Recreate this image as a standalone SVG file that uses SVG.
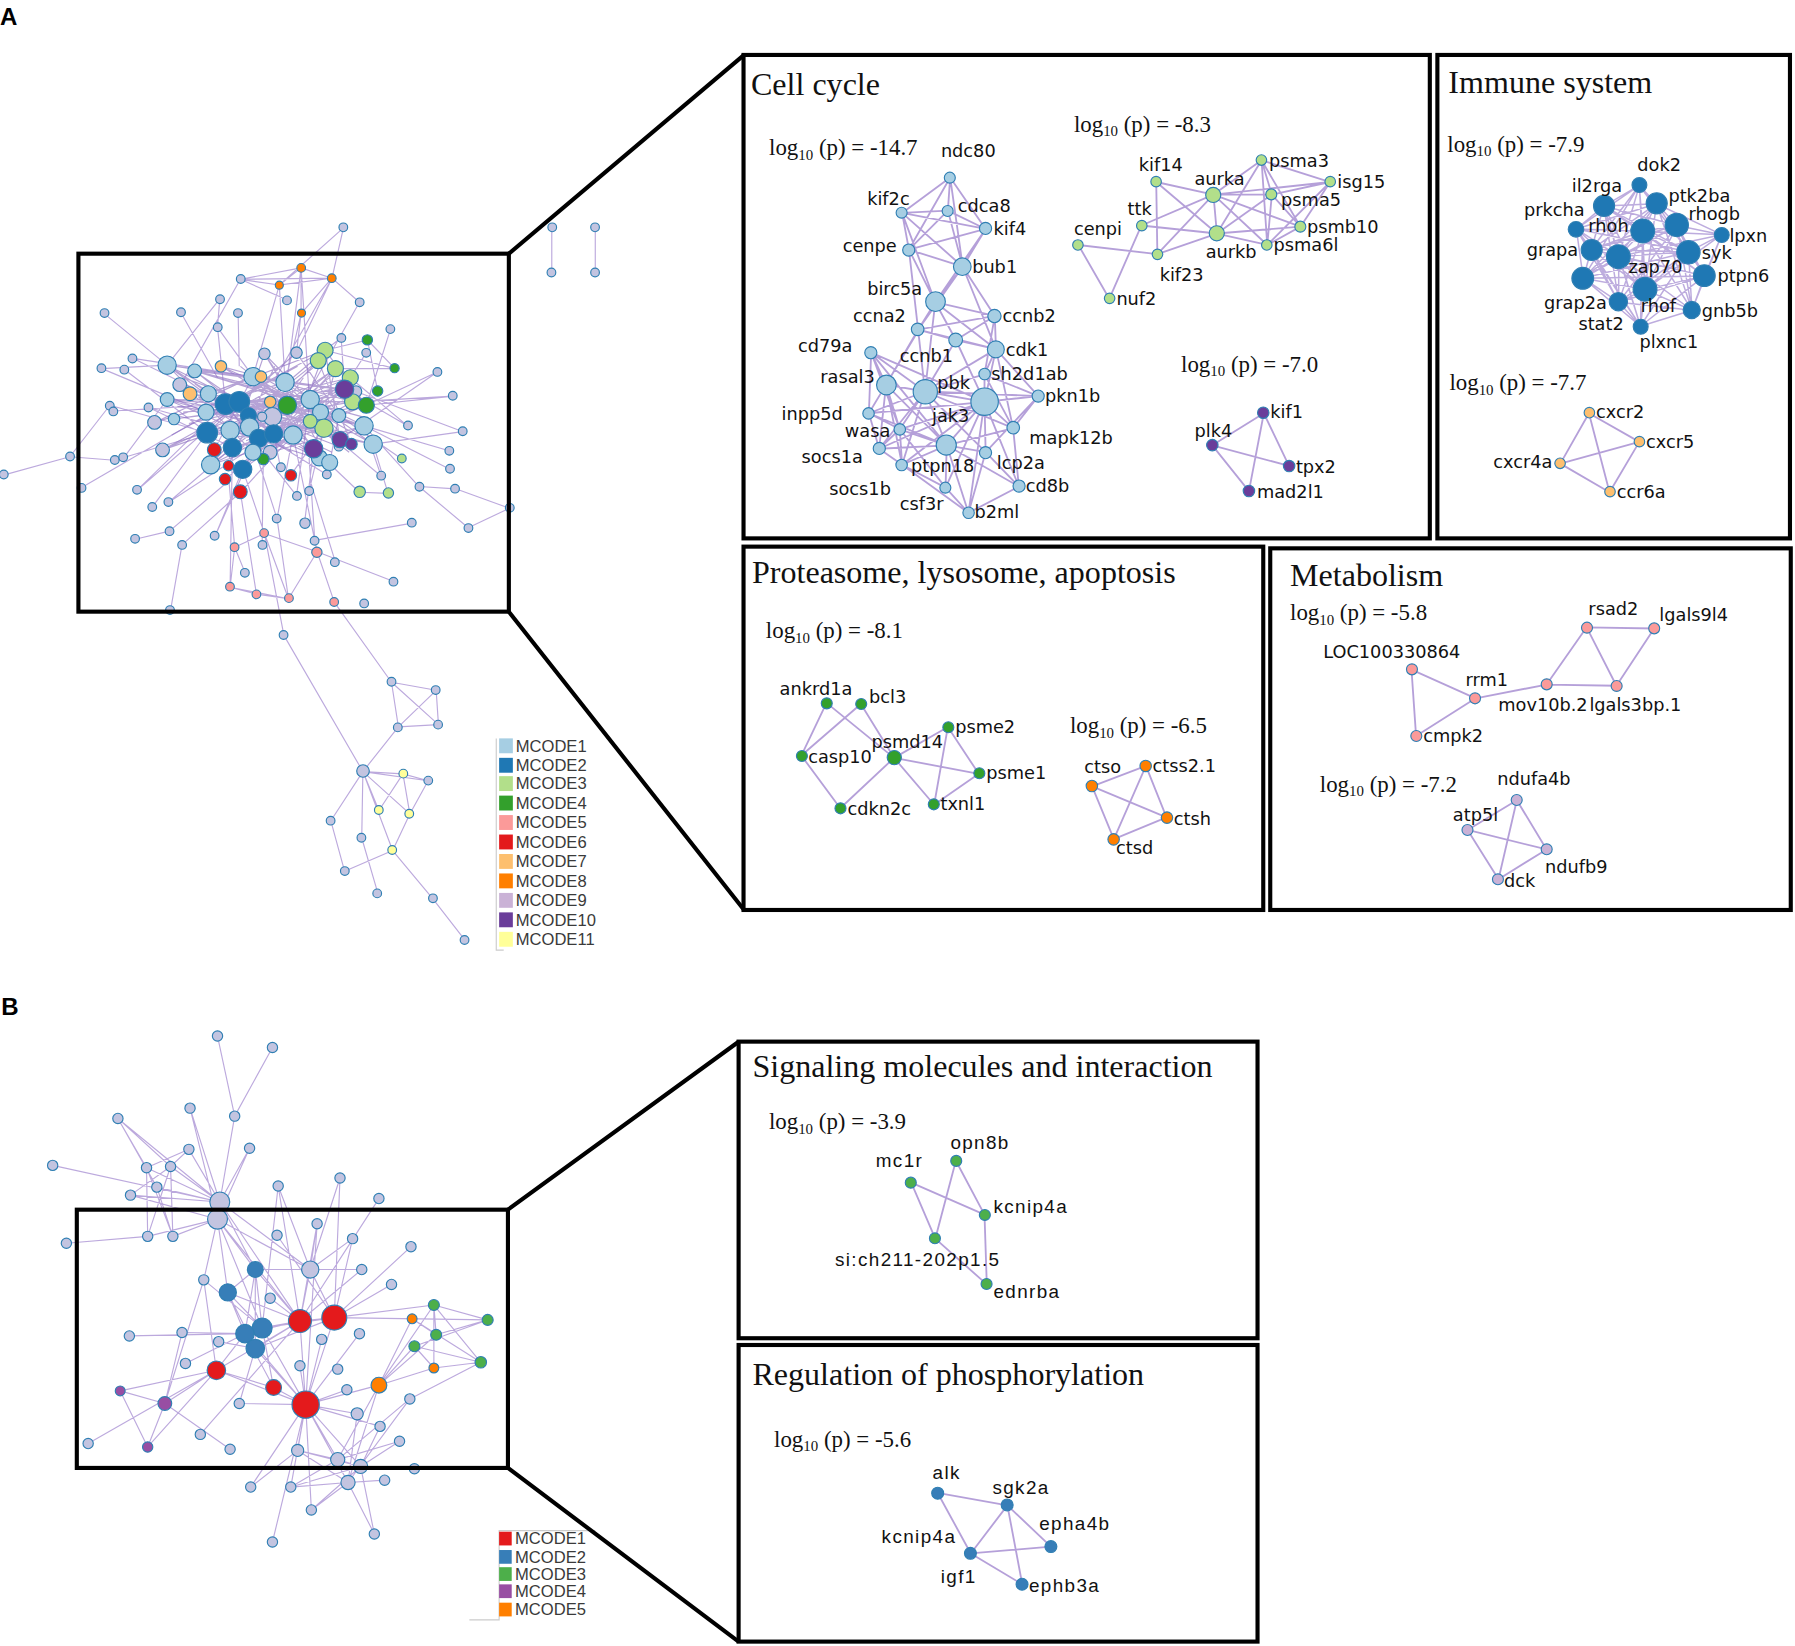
<svg xmlns="http://www.w3.org/2000/svg" width="1795" height="1646" viewBox="0 0 1795 1646">
<style>
.e{fill:none;stroke:#8f6fc6;stroke-opacity:.6;stroke-width:1}
.ce{fill:none;stroke:#6c45ad;stroke-opacity:.5;stroke-width:1}
.se{fill:none;stroke:#a88fd2;stroke-opacity:.85;stroke-width:1.6}
.ie{fill:none;stroke:#9a7fcd;stroke-opacity:.65;stroke-width:1.3}
.box{fill:none;stroke:#000;stroke-width:3.6}
.zl{fill:none;stroke:#000;stroke-width:3.6}
circle{stroke:#2f7fb3;stroke-width:1}
.gr{fill:#c3c4e0}.c1{fill:#a6cee3}.c2{fill:#1f78b4}.c3{fill:#b2df8a}.c4{fill:#33a02c}.c5{fill:#fb9a99}.c6{fill:#e31a1c}.c7{fill:#fdbf6f}.c8{fill:#ff7f00}.c9{fill:#cab2d6}.c10{fill:#6a3d9a}.c11{fill:#ffff99}
.b1{fill:#e41a1c}.b2{fill:#377eb8}.b3{fill:#4daf4a}.b4{fill:#984ea3}.b5{fill:#ff7f00}
.lab{font-family:"DejaVu Sans",sans-serif;font-size:15.5px;fill:#111}
.labB{font-family:"Liberation Sans",Arial,sans-serif;font-size:16.5px;letter-spacing:1.2px;fill:#111}
.title{font-family:"Liberation Serif","Times New Roman",serif;font-size:28px;fill:#111}
.lg{font-family:"Liberation Serif","Times New Roman",serif;font-size:20px;fill:#111}
.leg{font-family:"Liberation Sans",Arial,sans-serif;font-size:14.5px;fill:#3a3a3a}
.pl{font-family:"Liberation Sans",Arial,sans-serif;font-size:21px;font-weight:bold;fill:#000}
</style>
<rect width="1795" height="1646" fill="#fff"/>
<g transform="scale(1.14477)">
<text class="pl" x="0" y="22">A</text>
<text class="pl" x="1" y="887">B</text>

<!-- Panel A overview network -->
<g id="A-network">
<g id="A-edges">
<path class="ce" d="M146 319L249 334 M146 319L301 340 M146 319L209 351 M146 319L218 373 M170 324L271 349 M170 324L296 363 M170 324L239 379 M146 349L308 351 M146 349L280 360 M146 349L226 383 M182 344L318 372 M182 344L284 306 M182 344L256 380 M180 360L306 330 M180 360L326 388 M180 360L271 368 M201 376L301 340 M201 376L278 315 M201 376L288 404 M218 373L293 322 M218 373L320 354 M218 373L157 336 M221 329L283 374 M221 329L135 369 M221 329L307 388 M249 334L184 406 M249 334L142 393 M249 334L297 384 M271 349L181 378 M271 349L212 410 M271 349L152 366 M280 360L197 353 M280 360L166 344 M280 360L193 320 M256 380L146 349 M256 380L308 351 M256 380L284 306 M296 363L203 391 M296 363L226 383 M296 363L259 308 M318 372L209 351 M318 372L236 351 M318 372L251 354 M326 388L249 334 M326 388L221 329 M184 406L293 322 M184 406L239 379 M184 406L283 374 M221 395L306 330 M221 395L146 319 M279 400L197 353 M279 400L170 324 M288 404L218 373 M288 404L231 309 M259 308L209 351 M259 308L181 378 M231 309L271 368 M231 309L203 391 M152 366L251 354 M197 353L301 340 M197 353L284 306 M197 353L297 384 M209 351L274 392 M209 351L308 351 M181 378L306 330 M181 378L283 374 M203 391L320 354 M203 391L278 315 M226 383L301 340 M226 383L166 344 M239 379L146 319 M239 379L293 322 M212 410L280 360 M212 410L238 364 M217 363L326 388 M217 363L284 306 M284 306L320 354 M284 306L297 384 M278 315L307 388 M293 322L274 392 M306 330L236 395 M308 351L229 364 M283 374L193 320 M271 368L166 344 M251 354L311 342 M320 354L256 380 M230 401L280 360 M301 340L236 395 M274 392L221 329 M297 384L197 353 M307 388L231 309 M238 364L146 349 M157 336L296 390 M135 369L249 334 M142 393L271 349 M236 395L318 372 M229 364L326 388 M311 342L170 324 M193 320L308 351 M166 344L283 374 M228 329L274 392 M236 351L142 393 M170 324L221 329 M197 353L256 380 M209 351L239 379 M181 378L226 383 M226 383L280 360 M249 334L301 340 M271 349L318 372 M203 391L256 380 M146 349L197 353 M182 344L221 329 M160 330L300 380 M165 370L310 335 M175 340L290 395 M190 330L320 365 M200 400L300 320 M155 355L320 380 M185 395L275 320 M210 320L305 395 M150 380L260 320 M240 320L200 405 M255 395L170 335 M285 350L160 360 M230 340L325 375 M215 385L300 350 M245 365L190 340 M265 330L215 400 M300 370L230 330 M175 385L295 340"/>
<path class="e" d="M300 199L244 249 M300 199L290 243 M263 234L244 249 M263 234L290 243 M263 234L263 274 M244 249L290 243 M290 243L263 274 M210 244L263 234 M210 244L290 243 M210 244L244 249 M210 244L251 262 M290 243L314 264 M263 234L251 329 M244 249L249 334 M290 243L259 308 M263 274L252 322 M290 243L241 330 M210 244L158 336 M263 234L270 345 M244 249L221 329 M263 274L259 308 M192 261L190 286 M192 261L146 319 M190 286L197 353 M190 286L221 329 M158 273L190 330 M208 274L209 320 M91 274L146 319 M314 264L271 340 M341 288L320 354 M321 297L284 306 M321 297L345 322 M321 297L330 342 M320 308L306 330 M345 322L293 322 M345 322L284 306 M382 325L320 354 M396 346L320 354 M404 377L326 388 M393 394L318 372 M393 410L318 372 M398 427L366 425 M366 425L318 372 M445 444L398 427 M445 444L409 461 M409 461L366 425 M360 457L275 472 M356 372L306 330 M298 295L284 306 M298 295L301 340 M356 372L301 340 M404 377L311 342 M396 346L308 351 M382 325L297 384 M3 415L61 399 M61 399L96 354 M61 399L100 402 M116 313L197 353 M89 322L146 319 M109 323L181 378 M96 354L181 378 M99 359L197 353 M130 356L203 391 M100 402L181 378 M108 400L146 349 M71 426L197 353 M120 428L197 353 M147 439L203 391 M133 443L181 378 M118 471L148 464 M148 464L200 420 M159 476L210 430 M188 468L212 410 M229 476L230 400 M242 453L256 380 M266 457L274 392 M275 472L270 400 M259 433L271 349 M270 429L283 374 M293 491L271 420 M344 508L277 482 M214 500L205 478 M245 408L239 379 M286 415L296 363 M333 416L318 372 M351 401L296 363 M314 430L274 392 M339 431L326 388 M314 430L339 431 M116 313L221 329 M89 322L180 360 M130 356L226 383 M120 428L209 351 M147 439L239 379 M188 468L226 383 M242 453L209 351 M259 433L197 353 M333 416L283 374 M286 415L218 373 M231 466L277 482 M231 466L205 478 M205 478L201 513 M201 513L224 519 M224 519L252 523 M201 513L252 523 M277 482L252 523 M277 482L275 472 M231 466L212 410 M205 478L200 420 M292 526L277 482 M224 519L210 430 M252 523L231 466 M201 513L203 391 M149 533L159 476 M231 466L248 555 M248 555L317 674 M292 526L342 596 M277 482L256 380 M252 523L242 453 M342 596L381 603 M342 596L348 635 M342 596L383 633 M381 603L383 633 M381 603L348 635 M348 635L383 633 M348 635L317 674 M317 674L352 676 M317 674L374 682 M352 676L374 682 M317 674L331 708 M317 674L358 711 M352 676L331 708 M352 676L358 711 M374 682L358 711 M317 674L289 717 M317 674L316 732 M317 674L343 743 M358 711L343 743 M289 717L301 761 M301 761L343 743 M316 732L330 780 M343 743L378 785 M378 785L406 821 M482 199L482 238 M520 199L520 238 M187 393L221 329 M210 430L256 380 M254 415L283 374 M197 419L239 379"/>
</g>
<g id="A-nodes">
<g class="gr">
<circle cx="299.9" cy="198.6" r="3.8"/><circle cx="482.4" cy="198.6" r="3.8"/><circle cx="481.7" cy="238" r="3.8"/><circle cx="519.8" cy="198.6" r="3.8"/><circle cx="519.8" cy="238" r="3.8"/><circle cx="3.3" cy="414.5" r="3.8"/><circle cx="61.2" cy="398.8" r="3.8"/><circle cx="210.3" cy="243.7" r="3.8"/><circle cx="250.7" cy="262.4" r="3.8"/><circle cx="314.2" cy="264.1" r="3.8"/><circle cx="192.2" cy="261.4" r="3.8"/><circle cx="158.1" cy="272.8" r="3.8"/><circle cx="207.9" cy="273.5" r="3.8"/><circle cx="91.3" cy="273.5" r="3.8"/><circle cx="190.2" cy="285.8" r="3.8"/><circle cx="298.2" cy="295.2" r="3.8"/><circle cx="341" cy="287.5" r="3.8"/><circle cx="319.9" cy="308.2" r="3.8"/><circle cx="115.7" cy="313.2" r="3.8"/><circle cx="88.6" cy="321.6" r="3.8"/><circle cx="108.6" cy="322.9" r="3.8"/><circle cx="382.1" cy="324.9" r="3.8"/><circle cx="395.5" cy="345.7" r="3.8"/><circle cx="95.9" cy="354.4" r="3.8"/><circle cx="99" cy="359.4" r="3.8"/><circle cx="129.7" cy="356" r="3.8"/><circle cx="356.4" cy="371.7" r="3.8"/><circle cx="404.2" cy="376.7" r="3.8"/><circle cx="392.5" cy="393.8" r="3.8"/><circle cx="100.3" cy="401.8" r="3.8"/><circle cx="107.6" cy="399.5" r="3.8"/><circle cx="393.1" cy="409.5" r="3.8"/><circle cx="397.5" cy="426.9" r="3.8"/><circle cx="366.4" cy="425.2" r="3.8"/><circle cx="445.3" cy="443.6" r="3.8"/><circle cx="409.2" cy="461.3" r="3.8"/><circle cx="359.7" cy="456.6" r="3.8"/><circle cx="333" cy="415.5" r="3.8"/><circle cx="71.2" cy="426.2" r="3.8"/><circle cx="119.7" cy="427.9" r="3.8"/><circle cx="147.1" cy="438.6" r="3.8"/><circle cx="133" cy="442.9" r="3.8"/><circle cx="118" cy="470.7" r="3.8"/><circle cx="148.1" cy="464" r="3.8"/><circle cx="159.1" cy="476" r="3.8"/><circle cx="187.5" cy="468" r="3.8"/><circle cx="229.3" cy="476" r="3.8"/><circle cx="241.7" cy="453" r="3.8"/><circle cx="266.4" cy="457" r="4.5"/><circle cx="274.8" cy="472.4" r="3.8"/><circle cx="259.4" cy="433.2" r="3.8"/><circle cx="270.1" cy="428.9" r="3.8"/><circle cx="292.5" cy="491.1" r="3.8"/><circle cx="343.7" cy="508.1" r="3.8"/><circle cx="213.9" cy="500.4" r="3.8"/><circle cx="245.4" cy="408.2" r="3.8"/><circle cx="285.5" cy="414.5" r="3.8"/><circle cx="148.5" cy="532.9" r="3.8"/><circle cx="318.1" cy="527.1" r="3.8"/><circle cx="247.7" cy="554.7" r="3.8"/><circle cx="342" cy="595.5" r="3.8"/><circle cx="380.6" cy="602.8" r="3.8"/><circle cx="347.5" cy="635.4" r="3.8"/><circle cx="382.7" cy="633" r="3.8"/><circle cx="374.1" cy="681.9" r="3.8"/><circle cx="288.8" cy="716.9" r="3.8"/><circle cx="315.7" cy="731.8" r="3.8"/><circle cx="301.2" cy="760.9" r="3.8"/><circle cx="329.5" cy="780.4" r="3.8"/><circle cx="378.2" cy="784.7" r="3.8"/><circle cx="405.8" cy="821.1" r="3.8"/><circle cx="317.1" cy="673.5" r="5.5"/>
</g>
<g class="c11"><circle cx="352.3" cy="675.8" r="3.8"/><circle cx="330.9" cy="707.6" r="3.8"/><circle cx="357.5" cy="710.8" r="3.8"/><circle cx="342.6" cy="742.5" r="3.8"/></g>
<g class="c8"><circle cx="263.1" cy="234" r="3.8"/><circle cx="244" cy="249.1" r="3.5"/><circle cx="289.8" cy="243" r="3.8"/><circle cx="263.4" cy="273.5" r="3.5"/></g>
<g class="c5"><circle cx="230.7" cy="465.7" r="3.8"/><circle cx="204.9" cy="478" r="3.8"/><circle cx="276.8" cy="482.4" r="4.5"/><circle cx="200.9" cy="512.5" r="3.8"/><circle cx="224" cy="519.2" r="3.8"/><circle cx="252.4" cy="522.5" r="3.8"/><circle cx="291.9" cy="525.9" r="3.8"/></g>
<g class="c3"><circle cx="351" cy="400.5" r="3.8"/><circle cx="314.2" cy="429.6" r="5"/><circle cx="339.3" cy="430.6" r="4.5"/></g>
<g class="c4"><circle cx="320.9" cy="296.9" r="4.5"/><circle cx="344.7" cy="321.6" r="4"/><circle cx="329.9" cy="341.6" r="4.5"/></g>
<g class="gr"><circle cx="238" cy="364" r="8"/><circle cx="157" cy="336" r="6"/><circle cx="135" cy="369" r="6"/><circle cx="142" cy="393" r="6"/><circle cx="236" cy="395" r="6"/><circle cx="229" cy="364" r="4"/><circle cx="296" cy="390" r="4"/><circle cx="311" cy="342" r="5"/><circle cx="259" cy="308" r="5"/><circle cx="231" cy="309" r="5"/></g>
<g class="c1"><circle cx="146" cy="319" r="8"/><circle cx="170" cy="324" r="6"/><circle cx="146" cy="349" r="6"/><circle cx="182" cy="344" r="7"/><circle cx="180" cy="360" r="7"/><circle cx="221" cy="329" r="8"/><circle cx="249" cy="334" r="8"/><circle cx="271" cy="349" r="8"/><circle cx="280" cy="360" r="7"/><circle cx="296" cy="363" r="6"/><circle cx="318" cy="372" r="8"/><circle cx="326" cy="388" r="8"/><circle cx="152" cy="366" r="5"/><circle cx="279" cy="400" r="7"/><circle cx="288" cy="404" r="7"/></g>
<g class="c7"><circle cx="193" cy="320" r="5"/><circle cx="166" cy="344" r="6"/><circle cx="228" cy="329" r="5"/><circle cx="236" cy="351" r="5"/></g>
<g class="c3"><circle cx="284" cy="306" r="7"/><circle cx="278" cy="315" r="7"/><circle cx="293" cy="322" r="7"/><circle cx="306" cy="330" r="7"/><circle cx="308" cy="351" r="7"/><circle cx="283" cy="374" r="8"/><circle cx="271" cy="368" r="6"/></g>
<g class="c4"><circle cx="251" cy="354" r="8"/><circle cx="320" cy="354" r="7"/><circle cx="230" cy="401" r="5"/></g>
<g class="c10"><circle cx="301" cy="340" r="8"/><circle cx="274" cy="392" r="8"/><circle cx="297" cy="384" r="7"/><circle cx="307" cy="388" r="5"/></g>
<g class="c2"><circle cx="197" cy="353" r="9"/><circle cx="209" cy="351" r="9"/><circle cx="181" cy="378" r="9"/><circle cx="217" cy="363" r="7"/></g>
<g class="c1"><circle cx="201" cy="376" r="8"/><circle cx="218" cy="373" r="8"/><circle cx="256" cy="380" r="8"/></g>
<g class="c2"><circle cx="203" cy="391" r="8"/><circle cx="226" cy="383" r="8"/><circle cx="239" cy="379" r="8"/></g>
<g class="c1"><circle cx="184" cy="406" r="8"/><circle cx="221" cy="395" r="7"/></g>
<g class="c2"><circle cx="212" cy="410" r="8"/></g>
<g class="c6"><circle cx="187.2" cy="392.8" r="6"/><circle cx="199.6" cy="406.8" r="4.5"/><circle cx="196.6" cy="418.5" r="5"/><circle cx="209.9" cy="429.6" r="6"/><circle cx="254.1" cy="415.2" r="5"/></g>
</g>
</g>

<g id="A-legend">
<path d="M433.5 645V830H440" fill="none" stroke="#ccc" stroke-width="1"/>
<rect x="436" y="645" width="12" height="13" fill="#a6cee3"/><text class="leg" x="450.5" y="656.5">MCODE1</text>
<rect x="436" y="662" width="12" height="13" fill="#1f78b4"/><text class="leg" x="450.5" y="673.5">MCODE2</text>
<rect x="436" y="678" width="12" height="13" fill="#b2df8a"/><text class="leg" x="450.5" y="689.5">MCODE3</text>
<rect x="436" y="695" width="12" height="13" fill="#33a02c"/><text class="leg" x="450.5" y="706.5">MCODE4</text>
<rect x="436" y="712" width="12" height="13" fill="#fb9a99"/><text class="leg" x="450.5" y="723.5">MCODE5</text>
<rect x="436" y="729" width="12" height="13" fill="#e31a1c"/><text class="leg" x="450.5" y="740.5">MCODE6</text>
<rect x="436" y="746" width="12" height="13" fill="#fdbf6f"/><text class="leg" x="450.5" y="757.5">MCODE7</text>
<rect x="436" y="763" width="12" height="13" fill="#ff7f00"/><text class="leg" x="450.5" y="774.5">MCODE8</text>
<rect x="436" y="780" width="12" height="13" fill="#cab2d6"/><text class="leg" x="450.5" y="791.5">MCODE9</text>
<rect x="436" y="797" width="12" height="13" fill="#6a3d9a"/><text class="leg" x="450.5" y="808.5">MCODE10</text>
<rect x="436" y="814" width="12" height="13" fill="#ffff99"/><text class="leg" x="450.5" y="825.5">MCODE11</text>
</g>

<g id="A-frames">
<rect class="box" x="68.5" y="221.6" width="376" height="312.7"/>
<path class="zl" d="M444.5 221.6L650 48 M444.5 534.3L650 795"/>
<rect class="box" x="649.5" y="48" width="599.5" height="422.3"/>
<rect class="box" x="1255.6" y="48" width="308" height="422.3"/>
<rect class="box" x="649.5" y="477.5" width="454" height="317.4"/>
<rect class="box" x="1109.6" y="479" width="454.7" height="315.9"/>
</g>

<!-- Cell cycle -->
<g id="cell-cycle">
<text class="title" x="656" y="83">Cell cycle</text>
<text class="lg" x="671.8" y="135.4">log<tspan font-size="13" dy="4">10</tspan><tspan dy="-4"> (p) = -14.7</tspan></text>
<text class="lg" x="938.1" y="115">log<tspan font-size="13" dy="4">10</tspan><tspan dy="-4"> (p) = -8.3</tspan></text>
<text class="lg" x="1031.7" y="324.7">log<tspan font-size="13" dy="4">10</tspan><tspan dy="-4"> (p) = -7.0</tspan></text>
<g id="cc-edges">
<path class="se" d="M830 155L788 186 M830 155L828 184 M830 155L861 200 M830 155L794 218 M830 155L841 233 M788 186L828 184 M788 186L861 200 M788 186L794 218 M788 186L841 233 M788 186L817 264 M828 184L861 200 M828 184L794 218 M828 184L841 233 M861 200L794 218 M861 200L841 233 M861 200L817 264 M794 218L841 233 M794 218L817 264 M794 218L802 288 M841 233L817 264 M841 233L869 276 M841 233L870 305 M841 233L802 288 M817 264L869 276 M817 264L802 288 M817 264L835 297 M817 264L870 305 M817 264L808 342 M817 264L774 336 M869 276L802 288 M869 276L835 297 M869 276L870 305 M869 276L860 327 M802 288L835 297 M802 288L870 305 M802 288L808 342 M802 288L774 336 M835 297L870 305 M835 297L860 351 M835 297L808 342 M870 305L860 327 M870 305L860 351 M870 305L808 342 M870 305L907 346 M870 305L885 374 M761 308L774 336 M761 308L808 342 M761 308L860 351 M761 308L759 361 M761 308L786 375 M761 308L827 389 M774 336L808 342 M774 336L860 351 M774 336L759 361 M774 336L786 375 M774 336L768 392 M774 336L827 389 M774 336L788 406 M808 342L860 351 M808 342L860 327 M808 342L759 361 M808 342L786 375 M808 342L827 389 M808 342L768 392 M808 342L788 406 M808 342L861 395 M808 342L907 346 M808 342L885 374 M860 351L860 327 M860 351L907 346 M860 351L759 361 M860 351L786 375 M860 351L885 374 M860 351L827 389 M860 351L861 395 M860 351L890 425 M860 351L846 448 M860 351L826 426 M860 351L788 406 M860 351L768 392 M860 327L907 346 M860 327L885 374 M907 346L885 374 M907 346L861 395 M759 361L786 375 M759 361L827 389 M759 361L768 392 M786 375L827 389 M786 375L768 392 M786 375L788 406 M786 375L826 426 M827 389L768 392 M827 389L788 406 M827 389L861 395 M827 389L826 426 M827 389L846 448 M827 389L890 425 M827 389L885 374 M861 395L846 448 M861 395L890 425 M885 374L890 425 M890 425L846 448 M826 426L846 448 M788 406L826 426 M768 392L788 406 M788 406L846 448"/>
<path class="se" d="M1010 159L1060 170 M1010 159L1063 204 M1010 159L1011 222 M1060 170L997 197 M1060 170L1063 204 M1060 170L1102 140 M1060 170L1111 170 M1060 170L1136 198 M1060 170L1107 214 M1060 170L1011 222 M1060 170L1162 159 M1102 140L1162 159 M1102 140L1111 170 M1102 140L1136 198 M1102 140L1107 214 M1102 140L1063 204 M1162 159L1111 170 M1162 159L1136 198 M1162 159L1107 214 M1111 170L1136 198 M1111 170L1107 214 M1111 170L1063 204 M1136 198L1107 214 M1136 198L1063 204 M1063 204L1107 214 M1063 204L997 197 M1063 204L1011 222 M997 197L969 261 M942 214L1011 222 M942 214L969 261"/>
<path class="se" d="M1059 389L1104 361 M1059 389L1126 407 M1059 389L1091 429 M1104 361L1126 407 M1104 361L1091 429"/>
</g>
<g class="c1">
<g id="ndc80"><circle cx="829.7" cy="155.2" r="4.8"/><text class="lab" x="821.9" y="136.9">ndc80</text></g>
<g id="kif2c"><circle cx="787.6" cy="185.8" r="4.8"/><text class="lab" x="757.5" y="179.1">kif2c</text></g>
<g id="cdca8"><circle cx="827.8" cy="184.3" r="4.8"/><text class="lab" x="836.7" y="184.9">cdca8</text></g>
<g id="kif4"><circle cx="860.9" cy="199.5" r="5.3"/><text class="lab" x="867.9" y="205.3">kif4</text></g>
<g id="cenpe"><circle cx="793.8" cy="218.4" r="5.3"/><text class="lab" x="736.1" y="219.9">cenpe</text></g>
<g id="bub1"><circle cx="840.6" cy="233" r="7.7"/><text class="lab" x="849.2" y="238.2">bub1</text></g>
<g id="birc5a"><circle cx="817.2" cy="263.5" r="8.6"/><text class="lab" x="757.5" y="257.7">birc5a</text></g>
<g id="ccnb2"><circle cx="868.7" cy="276.1" r="5.8"/><text class="lab" x="875.7" y="281">ccnb2</text></g>
<g id="ccna2"><circle cx="801.6" cy="287.7" r="5.5"/><text class="lab" x="745.1" y="281">ccna2</text></g>
<g id="ccnb1"><circle cx="834.8" cy="297" r="6"/><text class="lab" x="786" y="316">ccnb1</text></g>
<g id="cdk1"><circle cx="869.9" cy="305.2" r="7.4"/><text class="lab" x="878.5" y="311">cdk1</text></g>
<g id="cd79a"><circle cx="760.7" cy="308.1" r="5.3"/><text class="lab" x="697.1" y="307.2">cd79a</text></g>
<g id="sh2d1ab"><circle cx="860.1" cy="326.7" r="5"/><text class="lab" x="866" y="332">sh2d1ab</text></g>
<g id="rasal3"><circle cx="774.3" cy="336.3" r="8.6"/><text class="lab" x="716.6" y="334.9">rasal3</text></g>
<g id="pbk"><circle cx="808.3" cy="342.2" r="10.6"/><text class="lab" x="818.8" y="340.1">pbk</text></g>
<g id="jak3-hub"><circle cx="860.1" cy="350.9" r="12"/></g>
<g id="pkn1b"><circle cx="906.9" cy="346" r="5.3"/><text class="lab" x="912.8" y="350.9">pkn1b</text></g>
<g id="inpp5d"><circle cx="758.7" cy="361.1" r="5"/><text class="lab" x="682.7" y="366.9">inpp5d</text></g>
<g id="wasa"><circle cx="786" cy="375.1" r="5"/><text class="lab" x="738" y="381.5">wasa</text></g>
<g id="jak3"><text class="lab" x="814.1" y="368.4">jak3</text></g>
<g id="mapk12b"><circle cx="885.1" cy="373.6" r="5.5"/><text class="lab" x="899.1" y="388.2">mapk12b</text></g>
<g id="hub2"><circle cx="826.6" cy="388.8" r="8.8"/></g>
<g id="socs1a"><circle cx="768.1" cy="391.7" r="5.3"/><text class="lab" x="700.2" y="404.8">socs1a</text></g>
<g id="lcp2a"><circle cx="860.9" cy="395.4" r="5.3"/><text class="lab" x="870.7" y="410">lcp2a</text></g>
<g id="ptpn18"><circle cx="787.6" cy="406.2" r="5"/><text class="lab" x="795.8" y="412">ptpn18</text></g>
<g id="cd8b"><circle cx="890.2" cy="424.6" r="5.3"/><text class="lab" x="896" y="429.5">cd8b</text></g>
<g id="socs1b"><text class="lab" x="724.4" y="432.4">socs1b</text></g>
<g id="csf3r"><circle cx="825.8" cy="426" r="4.8"/><text class="lab" x="786" y="445.5">csf3r</text></g>
<g id="b2ml"><circle cx="846.1" cy="447.9" r="5"/><text class="lab" x="851.2" y="452.8">b2ml</text></g>
</g>
<g class="c3">
<g id="kif14"><circle cx="1009.9" cy="158.7" r="4.6"/><text class="lab" x="994.7" y="149.1">kif14</text></g>
<g id="aurka"><circle cx="1059.8" cy="170.3" r="6.6"/><text class="lab" x="1043.4" y="161.6">aurka</text></g>
<g id="psma3"><circle cx="1101.9" cy="139.8" r="4.6"/><text class="lab" x="1108.6" y="146.2">psma3</text></g>
<g id="isg15"><circle cx="1162" cy="158.7" r="4.6"/><text class="lab" x="1168.2" y="164.5">isg15</text></g>
<g id="psma5"><circle cx="1110.5" cy="169.8" r="4.8"/><text class="lab" x="1119.1" y="180">psma5</text></g>
<g id="ttk"><circle cx="997.4" cy="197.1" r="4.6"/><text class="lab" x="984.9" y="187.8">ttk</text></g>
<g id="cenpi"><circle cx="941.6" cy="214" r="4.6"/><text class="lab" x="938.1" y="205.3">cenpi</text></g>
<g id="aurkb"><circle cx="1062.9" cy="203.8" r="6.6"/><text class="lab" x="1053.2" y="225.7">aurkb</text></g>
<g id="psmb10"><circle cx="1135.9" cy="198" r="4.8"/><text class="lab" x="1141.7" y="203.8">psmb10</text></g>
<g id="psma6l"><circle cx="1106.6" cy="214" r="4.6"/><text class="lab" x="1112.5" y="219.3">psma6l</text></g>
<g id="kif23"><circle cx="1011.1" cy="222.2" r="4.6"/><text class="lab" x="1013" y="245.5">kif23</text></g>
<g id="nuf2"><circle cx="969.3" cy="260.6" r="4.6"/><text class="lab" x="975.2" y="266.5">nuf2</text></g>
</g>
<g class="c10">
<g id="kif1"><circle cx="1103.5" cy="360.5" r="5"/><text class="lab" x="1109.7" y="365.5">kif1</text></g>
<g id="plk4"><circle cx="1059" cy="388.8" r="5"/><text class="lab" x="1043.4" y="381.5">plk4</text></g>
<g id="tpx2"><circle cx="1126.1" cy="407.1" r="5"/><text class="lab" x="1132" y="412.9">tpx2</text></g>
<g id="mad2l1"><circle cx="1091" cy="428.9" r="5"/><text class="lab" x="1098" y="434.8">mad2l1</text></g>
</g>
</g>

<!-- Immune system -->
<g id="immune">
<text class="title" x="1265.2" y="81.5">Immune system</text>
<text class="lg" x="1264.3" y="132.5">log<tspan font-size="13" dy="4">10</tspan><tspan dy="-4"> (p) = -7.9</tspan></text>
<text class="lg" x="1266.1" y="340.7">log<tspan font-size="13" dy="4">10</tspan><tspan dy="-4"> (p) = -7.7</tspan></text>
<path class="ie" d="M1432 162L1401 180 M1432 162L1447 178 M1432 162L1377 200 M1432 162L1435 202 M1432 162L1465 197 M1432 162L1390 218 M1432 162L1414 224 M1432 162L1475 220 M1432 162L1383 243 M1432 162L1437 253 M1401 180L1447 178 M1401 180L1377 200 M1401 180L1435 202 M1401 180L1465 197 M1401 180L1390 218 M1401 180L1414 224 M1401 180L1475 220 M1401 180L1383 243 M1401 180L1489 241 M1401 180L1437 253 M1401 180L1414 264 M1401 180L1433 285 M1447 178L1377 200 M1447 178L1435 202 M1447 178L1465 197 M1447 178L1504 205 M1447 178L1390 218 M1447 178L1414 224 M1447 178L1475 220 M1447 178L1383 243 M1447 178L1489 241 M1447 178L1437 253 M1447 178L1478 271 M1377 200L1435 202 M1377 200L1390 218 M1377 200L1414 224 M1377 200L1475 220 M1377 200L1383 243 M1377 200L1437 253 M1377 200L1414 264 M1377 200L1433 285 M1435 202L1465 197 M1435 202L1504 205 M1435 202L1390 218 M1435 202L1414 224 M1435 202L1475 220 M1435 202L1383 243 M1435 202L1489 241 M1435 202L1437 253 M1435 202L1414 264 M1435 202L1478 271 M1435 202L1433 285 M1465 197L1504 205 M1465 197L1390 218 M1465 197L1414 224 M1465 197L1475 220 M1465 197L1383 243 M1465 197L1489 241 M1465 197L1437 253 M1465 197L1414 264 M1465 197L1478 271 M1504 205L1414 224 M1504 205L1475 220 M1504 205L1489 241 M1504 205L1437 253 M1504 205L1478 271 M1390 218L1414 224 M1390 218L1475 220 M1390 218L1383 243 M1390 218L1489 241 M1390 218L1437 253 M1390 218L1414 264 M1390 218L1433 285 M1414 224L1475 220 M1414 224L1383 243 M1414 224L1489 241 M1414 224L1437 253 M1414 224L1414 264 M1414 224L1478 271 M1414 224L1433 285 M1475 220L1383 243 M1475 220L1489 241 M1475 220L1437 253 M1475 220L1414 264 M1475 220L1478 271 M1475 220L1433 285 M1383 243L1489 241 M1383 243L1437 253 M1383 243L1414 264 M1383 243L1433 285 M1489 241L1437 253 M1489 241L1414 264 M1489 241L1478 271 M1489 241L1433 285 M1437 253L1414 264 M1437 253L1478 271 M1437 253L1433 285 M1414 264L1478 271 M1414 264L1433 285 M1478 271L1433 285"/>
<path class="se" d="M1388 361L1432 386 M1388 361L1363 405 M1388 361L1406 430 M1432 386L1363 405 M1432 386L1406 430 M1363 405L1406 430"/>
<g class="c2">
<g id="dok2"><circle cx="1432.1" cy="161.6" r="6.5"/><text class="lab" x="1430.3" y="149.1">dok2</text></g>
<g id="il2rga"><circle cx="1401.2" cy="179.9" r="9.2"/><text class="lab" x="1373" y="167.4">il2rga</text></g>
<g id="ptk2ba"><circle cx="1447.2" cy="177.6" r="9.2"/><text class="lab" x="1457.4" y="176.2">ptk2ba</text></g>
<g id="prkcha"><circle cx="1376.7" cy="200.3" r="6.8"/><text class="lab" x="1331.3" y="188.7">prkcha</text></g>
<g id="rhoh"><circle cx="1435" cy="201.8" r="10.4"/></g>
<g id="rhogb"><circle cx="1464.7" cy="196.5" r="10.2"/><text class="lab" x="1474.9" y="192.2">rhogb</text></g>
<g id="lpxn"><circle cx="1504" cy="205.3" r="6.5"/><text class="lab" x="1510.7" y="211.1">lpxn</text></g>
<g id="grapa"><circle cx="1390.4" cy="218.4" r="9.2"/><text class="lab" x="1333.6" y="223.6">grapa</text></g>
<g id="zap70"><circle cx="1413.7" cy="224.2" r="10.4"/></g>
<g id="syk"><circle cx="1474.9" cy="220.4" r="10.2"/><text class="lab" x="1486.5" y="226.5">syk</text></g>
<g id="n-imm11"><circle cx="1382.6" cy="243.1" r="9.5"/></g>
<g id="ptpn6"><circle cx="1488.8" cy="240.8" r="9.5"/><text class="lab" x="1500.2" y="246">ptpn6</text></g>
<g id="rhof"><circle cx="1437" cy="252.7" r="10.4"/></g>
<g id="grap2a"><circle cx="1413.7" cy="263.5" r="8"/><text class="lab" x="1348.8" y="270.2">grap2a</text></g>
<g id="gnb5b"><circle cx="1477.8" cy="270.8" r="7.5"/><text class="lab" x="1486.5" y="276.6">gnb5b</text></g>
<g id="plxnc1"><circle cx="1433.2" cy="285.4" r="6.5"/><text class="lab" x="1432.1" y="304.3">plxnc1</text></g>
<text class="lab" x="1387.5" y="202.4">rhoh</text>
<text class="lab" x="1422.5" y="238.2">zap70</text>
<text class="lab" x="1433.2" y="272.2">rhof</text>
<text class="lab" x="1378.8" y="288.3">stat2</text>
</g>
<g class="c7">
<g id="cxcr2"><circle cx="1388.4" cy="360.5" r="4.6"/><text class="lab" x="1394.2" y="365">cxcr2</text></g>
<g id="cxcr5"><circle cx="1432.1" cy="385.8" r="4.6"/><text class="lab" x="1437.9" y="391.6">cxcr5</text></g>
<g id="cxcr4a"><circle cx="1362.8" cy="404.7" r="4.6"/><text class="lab" x="1304.5" y="409.1">cxcr4a</text></g>
<g id="ccr6a"><circle cx="1406.4" cy="429.5" r="4.6"/><text class="lab" x="1412.3" y="435.3">ccr6a</text></g>
</g>
</g>

<!-- Proteasome -->
<g id="proteasome">
<text class="title" x="656.9" y="509.6">Proteasome, lysosome, apoptosis</text>
<text class="lg" x="669" y="557.6">log<tspan font-size="13" dy="4">10</tspan><tspan dy="-4"> (p) = -8.1</tspan></text>
<text class="lg" x="934.6" y="640.6">log<tspan font-size="13" dy="4">10</tspan><tspan dy="-4"> (p) = -6.5</tspan></text>
<path class="se" d="M722 614L700 660 M722 614L781 662 M752 615L700 660 M752 615L781 662 M700 660L734 706 M734 706L781 662 M781 662L828 635 M781 662L855 676 M781 662L816 703 M828 635L855 676 M828 635L816 703 M816 703L855 676 M954 687L1001 669 M954 687L1019 714 M954 687L973 733 M1001 669L973 733 M1001 669L1019 714 M973 733L1019 714"/>
<g class="c4">
<g id="ankrd1a"><circle cx="722.2" cy="614.4" r="4.8"/><text class="lab" x="681" y="607.1">ankrd1a</text></g>
<g id="bcl3"><circle cx="752.3" cy="615" r="4.8"/><text class="lab" x="759.2" y="613.8">bcl3</text></g>
<g id="psme2"><circle cx="828.4" cy="635.3" r="4.8"/><text class="lab" x="834.4" y="640.6">psme2</text></g>
<g id="casp10"><circle cx="700.5" cy="660.4" r="4.8"/><text class="lab" x="706" y="666.2">casp10</text></g>
<g id="psmd14"><circle cx="781.2" cy="661.8" r="6.2"/><text class="lab" x="761.3" y="653.7">psmd14</text></g>
<g id="psme1"><circle cx="855.5" cy="675.5" r="4.8"/><text class="lab" x="861.5" y="680.8">psme1</text></g>
<g id="cdkn2c"><circle cx="734.2" cy="706.1" r="4.8"/><text class="lab" x="740.3" y="711.9">cdkn2c</text></g>
<g id="txnl1"><circle cx="815.7" cy="702.6" r="4.8"/><text class="lab" x="821.5" y="707.6">txnl1</text></g>
</g>
<g class="c8">
<g id="ctso"><circle cx="953.8" cy="686.6" r="5"/><text class="lab" x="947.2" y="674.9">ctso</text></g>
<g id="ctss2.1"><circle cx="1000.8" cy="669.1" r="5"/><text class="lab" x="1006.8" y="674.1">ctss2.1</text></g>
<g id="ctsh"><circle cx="1019.4" cy="714.2" r="5"/><text class="lab" x="1025.4" y="720.7">ctsh</text></g>
<g id="ctsd"><circle cx="972.8" cy="733.2" r="5"/><text class="lab" x="974.9" y="746">ctsd</text></g>
</g>
</g>

<!-- Metabolism -->
<g id="metabolism">
<text class="title" x="1126.9" y="511.9">Metabolism</text>
<text class="lg" x="1126.9" y="541.6">log<tspan font-size="13" dy="4">10</tspan><tspan dy="-4"> (p) = -5.8</tspan></text>
<text class="lg" x="1152.9" y="691.5">log<tspan font-size="13" dy="4">10</tspan><tspan dy="-4"> (p) = -7.2</tspan></text>
<path class="se" d="M1233 585L1289 610 M1233 585L1237 643 M1237 643L1289 610 M1289 610L1351 598 M1351 598L1386 548 M1351 598L1412 599 M1386 548L1445 549 M1386 548L1412 599 M1445 549L1412 599 M1282 725L1325 699 M1282 725L1351 742 M1282 725L1309 768 M1325 699L1351 742 M1325 699L1309 768 M1309 768L1351 742"/>
<g class="c5">
<g id="rsad2"><circle cx="1386.3" cy="548.3" r="4.8"/><text class="lab" x="1387.5" y="537.2">rsad2</text></g>
<g id="lgals9l4"><circle cx="1445" cy="548.9" r="4.8"/><text class="lab" x="1449.5" y="542.5">lgals9l4</text></g>
<g id="LOC100330864"><circle cx="1233.4" cy="584.7" r="4.8"/><text class="lab" x="1155.9" y="575.1">LOC100330864</text></g>
<g id="rrm1"><circle cx="1288.5" cy="610" r="4.8"/><text class="lab" x="1280.2" y="598.9">rrm1</text></g>
<g id="mov10b.2"><circle cx="1351.1" cy="597.8" r="4.8"/><text class="lab" x="1308.8" y="620.8">mov10b.2</text></g>
<g id="lgals3bp.1"><circle cx="1412.2" cy="599.2" r="4.8"/><text class="lab" x="1388.4" y="620.8">lgals3bp.1</text></g>
<g id="cmpk2"><circle cx="1237.2" cy="642.9" r="4.8"/><text class="lab" x="1243.2" y="647.9">cmpk2</text></g>
</g>
<g class="c9">
<g id="ndufa4b"><circle cx="1324.9" cy="698.8" r="4.8"/><text class="lab" x="1307.9" y="685.7">ndufa4b</text></g>
<g id="atp5l"><circle cx="1281.9" cy="725" r="4.8"/><text class="lab" x="1269.1" y="716.9">atp5l</text></g>
<g id="ndufb9"><circle cx="1351.1" cy="741.9" r="4.8"/><text class="lab" x="1349.6" y="762.3">ndufb9</text></g>
<g id="dck"><circle cx="1308.5" cy="768.1" r="4.8"/><text class="lab" x="1313.8" y="774.5">dck</text></g>
</g>
</g>

<!-- Panel B overview network -->
<g id="B-network">
<path class="e" d="M190 905L205 975 M238 915L205 975 M205 975L192 1050 M166 968L192 1050 M218 1003L192 1050 M103 977L137 1037 M103 977L192 1050 M103 977L128 1020 M165 1004L128 1020 M46 1018L192 1050 M128 1020L192 1050 M149 1019L192 1050 M137 1037L192 1050 M114 1044L192 1050 M114 1044L190 1065 M129 1080L190 1065 M151 1080L190 1065 M58 1086L129 1080 M128 1020L129 1080 M149 1019L151 1080 M128 1020L151 1080 M149 1019L129 1080 M137 1037L151 1080 M165 1004L149 1019 M165 1004L192 1050 M103 977L149 1019 M114 1044L149 1019 M218 1003L190 1065 M166 968L190 1065 M190 1065L223 1109 M190 1065L199 1129 M190 1065L229 1160 M190 1065L178 1118 M190 1065L271 1109 M190 1065L262 1154 M192 1050L271 1109 M192 1050L223 1109 M192 1050L262 1154 M243 1036L229 1160 M277 1069L271 1109 M308 1082L271 1109 M297 1029L271 1109 M331 1047L262 1154 M242 1079L292 1151 M359 1089L292 1151 M316 1109L271 1109 M342 1122L292 1151 M277 1069L262 1154 M277 1069L267 1227 M223 1109L271 1109 M223 1109L262 1154 M223 1109L214 1165 M223 1109L229 1160 M223 1109L223 1178 M223 1109L199 1129 M199 1129L229 1160 M199 1129L214 1165 M199 1129L262 1154 M199 1129L223 1178 M214 1165L229 1160 M214 1165L262 1154 M229 1160L262 1154 M229 1160L292 1151 M223 1178L262 1154 M223 1178L292 1151 M262 1154L292 1151 M271 1109L292 1151 M271 1109L262 1154 M214 1165L189 1197 M229 1160L239 1212 M214 1165L239 1212 M189 1197L262 1154 M189 1197L239 1212 M178 1118L229 1160 M178 1118L189 1197 M267 1227L260 1267 M267 1227L295 1275 M267 1227L315 1281 M267 1227L304 1295 M267 1227L254 1299 M267 1227L272 1319 M267 1227L219 1299 M267 1227L238 1347 M267 1227L312 1235 M267 1227L332 1246 M267 1227L209 1226 M267 1227L262 1154 M267 1227L292 1151 M267 1227L229 1160 M267 1227L223 1178 M267 1227L189 1197 M267 1227L239 1212 M267 1227L331 1210 M267 1227L281 1170 M267 1227L262 1193 M267 1227L214 1165 M292 1151L379 1140 M292 1151L426 1153 M292 1151L360 1152 M379 1140L426 1153 M379 1140L381 1166 M379 1140L420 1190 M360 1152L381 1166 M360 1152L420 1190 M381 1166L426 1153 M362 1176L426 1153 M362 1176L420 1190 M379 1195L420 1190 M379 1195L379 1140 M331 1210L379 1140 M331 1210L360 1152 M331 1210L362 1176 M331 1210L379 1195 M358 1222L420 1190 M381 1166L331 1210 M362 1176L379 1195 M331 1210L304 1295 M331 1210L295 1275 M105 1215L144 1226 M105 1215L129 1264 M144 1226L129 1264 M105 1215L189 1197 M144 1226L189 1197 M129 1264L189 1197 M77 1261L189 1197 M144 1226L159 1164 M144 1226L201 1266 M144 1226L178 1118 M113 1167L214 1165 M159 1164L214 1165 M162 1191L214 1165 M191 1172L223 1178 M175 1253L262 1154 M209 1226L223 1178 M236 1134L262 1154 M314 1165L267 1227 M303 1214L267 1227 M358 1222L304 1295 M349 1259L295 1275 M362 1283L315 1281 M336 1293L304 1295 M327 1340L304 1295 M332 1246L315 1281 M312 1235L304 1295 M358 1222L295 1275 M260 1267L304 1295 M260 1267L295 1275 M254 1299L295 1275 M254 1299L315 1281 M272 1319L304 1295 M272 1319L315 1281 M219 1299L260 1267 M295 1275L315 1281 M295 1275L349 1259 M315 1281L349 1259 M327 1340L315 1281 M260 1267L315 1281 M254 1299L304 1295 M292 1151L308 1082 M292 1151L359 1089 M262 1154L243 1036 M292 1151L297 1029 M271 1109L243 1036 M262 1154L316 1109"/>
<g class="gr">
<circle cx="190" cy="905" r="4.5"/><circle cx="238" cy="915" r="4.5"/><circle cx="166" cy="968" r="4.5"/><circle cx="103" cy="977" r="4.5"/><circle cx="205" cy="975" r="4.5"/><circle cx="165" cy="1004" r="4.5"/><circle cx="218" cy="1003" r="4.5"/><circle cx="46" cy="1018" r="4.5"/><circle cx="128" cy="1020" r="4.5"/><circle cx="149" cy="1019" r="4.5"/><circle cx="137" cy="1037" r="4.5"/><circle cx="114" cy="1044" r="4.5"/><circle cx="192" cy="1050" r="8.7"/><circle cx="190" cy="1065" r="8.7"/><circle cx="243" cy="1036" r="4.5"/><circle cx="297" cy="1029" r="4.5"/><circle cx="331" cy="1047" r="4.5"/><circle cx="58" cy="1086" r="4.5"/><circle cx="129" cy="1080" r="4.5"/><circle cx="151" cy="1080" r="4.5"/><circle cx="277" cy="1069" r="4.5"/><circle cx="242" cy="1079" r="4.5"/><circle cx="308" cy="1082" r="4.5"/><circle cx="359" cy="1089" r="4.5"/><circle cx="271" cy="1109" r="7.5"/><circle cx="316" cy="1109" r="4.5"/><circle cx="178" cy="1118" r="4.5"/><circle cx="342" cy="1122" r="4.5"/><circle cx="236" cy="1134" r="4.5"/><circle cx="113" cy="1167" r="4.5"/><circle cx="159" cy="1164" r="4.5"/><circle cx="191" cy="1172" r="4.5"/><circle cx="314" cy="1165" r="4.5"/><circle cx="281" cy="1170" r="4.5"/><circle cx="162" cy="1191" r="4.5"/><circle cx="262" cy="1193" r="4.5"/><circle cx="295" cy="1196" r="4.5"/><circle cx="209" cy="1226" r="4.5"/><circle cx="303" cy="1214" r="4.5"/><circle cx="358" cy="1222" r="4.5"/><circle cx="312" cy="1235" r="5.3"/><circle cx="332" cy="1246" r="4.5"/><circle cx="349" cy="1259" r="4.5"/><circle cx="175" cy="1253" r="4.5"/><circle cx="201" cy="1266" r="4.5"/><circle cx="77" cy="1261" r="4.5"/><circle cx="260" cy="1267" r="5.3"/><circle cx="295" cy="1275" r="6.2"/><circle cx="315" cy="1281" r="6.2"/><circle cx="304" cy="1295" r="6.2"/><circle cx="362" cy="1283" r="4.5"/><circle cx="219" cy="1299" r="4.5"/><circle cx="254" cy="1299" r="4.5"/><circle cx="336" cy="1293" r="4.5"/><circle cx="272" cy="1319" r="4.5"/><circle cx="327" cy="1340" r="4.5"/><circle cx="238" cy="1347" r="4.5"/>
</g>
<g class="b2"><circle cx="223" cy="1109" r="6.9"/><circle cx="199" cy="1129" r="7.5"/><circle cx="229" cy="1160" r="8.7"/><circle cx="214" cy="1165" r="8.1"/><circle cx="223" cy="1178" r="8.1"/></g>
<g class="b1"><circle cx="262" cy="1154" r="10"/><circle cx="292" cy="1151" r="10.9"/><circle cx="189" cy="1197" r="8.1"/><circle cx="239" cy="1212" r="6.9"/><circle cx="267" cy="1227" r="11.9"/></g>
<g class="b5"><circle cx="360" cy="1152" r="4.3"/><circle cx="379" cy="1195" r="4.3"/><circle cx="331" cy="1210" r="6.9"/></g>
<g class="b3"><circle cx="379" cy="1140" r="4.8"/><circle cx="426" cy="1153" r="4.8"/><circle cx="381" cy="1166" r="4.8"/><circle cx="362" cy="1176" r="4.8"/><circle cx="420" cy="1190" r="5"/></g>
<g class="b4"><circle cx="105" cy="1215" r="4.3"/><circle cx="144" cy="1226" r="6"/><circle cx="129" cy="1264" r="4.5"/></g>
</g>

<g id="B-legend">
<path d="M410 1415H436V1337H520" fill="none" stroke="#ccc" stroke-width="1"/>
<rect x="436" y="1338" width="11" height="12" fill="#e41a1c"/><text class="leg" x="449.9" y="1349">MCODE1</text>
<rect x="436" y="1354" width="11" height="12" fill="#377eb8"/><text class="leg" x="449.9" y="1365">MCODE2</text>
<rect x="436" y="1369" width="11" height="12" fill="#4daf4a"/><text class="leg" x="449.9" y="1380">MCODE3</text>
<rect x="436" y="1384" width="11" height="12" fill="#984ea3"/><text class="leg" x="449.9" y="1395">MCODE4</text>
<rect x="436" y="1400" width="11" height="12" fill="#ff7f00"/><text class="leg" x="449.9" y="1411">MCODE5</text>
</g>

<g id="B-frames">
<rect class="box" x="67.1" y="1056.7" width="376.6" height="225.6"/>
<path class="zl" d="M443.7 1056.7L645.2 910 M443.7 1282.3L645.2 1434"/>
<rect class="box" x="645.2" y="909.9" width="453.3" height="259.1"/>
<rect class="box" x="645.2" y="1174.9" width="453.3" height="259.1"/>
</g>

<g id="signaling">
<text class="title" x="657.3" y="940.5">Signaling molecules and interaction</text>
<text class="lg" x="671.7" y="986.5">log<tspan font-size="13" dy="4">10</tspan><tspan dy="-4"> (p) = -3.9</tspan></text>
<path class="se" d="M796 1033L860 1061 M796 1033L817 1082 M835 1014L817 1082 M835 1014L860 1061 M860 1061L862 1122 M817 1082L862 1122"/>
<g class="b3">
<g id="opn8b"><circle cx="835.3" cy="1014.1" r="4.8"/><text class="labB" x="830.2" y="1004">opn8b</text></g>
<g id="mc1r"><circle cx="795.6" cy="1033.1" r="4.8"/><text class="labB" x="765" y="1019.7">mc1r</text></g>
<g id="kcnip4a-s"><circle cx="860.3" cy="1061.3" r="4.8"/><text class="labB" x="867.8" y="1059.3">kcnip4a</text></g>
<g id="si-ch211-202p1.5"><circle cx="816.7" cy="1081.7" r="4.8"/><text class="labB" x="729.4" y="1105.9">si:ch211-202p1.5</text></g>
<g id="ednrba"><circle cx="861.8" cy="1121.6" r="4.8"/><text class="labB" x="867.8" y="1134.1">ednrba</text></g>
</g>
</g>

<g id="phosphorylation">
<text class="title" x="657.3" y="1209.8">Regulation of phosphorylation</text>
<text class="lg" x="676.2" y="1263.7">log<tspan font-size="13" dy="4">10</tspan><tspan dy="-4"> (p) = -5.6</tspan></text>
<path class="se" d="M819 1304L880 1315 M819 1304L848 1357 M880 1315L848 1357 M880 1315L918 1351 M880 1315L893 1384 M848 1357L918 1351 M848 1357L893 1384"/>
<g class="b2">
<g id="alk"><circle cx="819.1" cy="1304.4" r="5.2"/><text class="labB" x="814.6" y="1292.2">alk</text></g>
<g id="sgk2a"><circle cx="879.8" cy="1314.6" r="5.2"/><text class="labB" x="866.9" y="1305">sgk2a</text></g>
<g id="epha4b"><circle cx="918" cy="1351" r="5.2"/><text class="labB" x="907.8" y="1336.5">epha4b</text></g>
<g id="igf1"><circle cx="847.7" cy="1356.9" r="5.2"/><text class="labB" x="821.8" y="1382.5">igf1</text></g>
<g id="ephb3a"><circle cx="892.8" cy="1383.9" r="5.2"/><text class="labB" x="898.8" y="1390.3">ephb3a</text></g>
<text class="labB" x="770.1" y="1348.1">kcnip4a</text>
</g>
</g>
</g>
</svg>
